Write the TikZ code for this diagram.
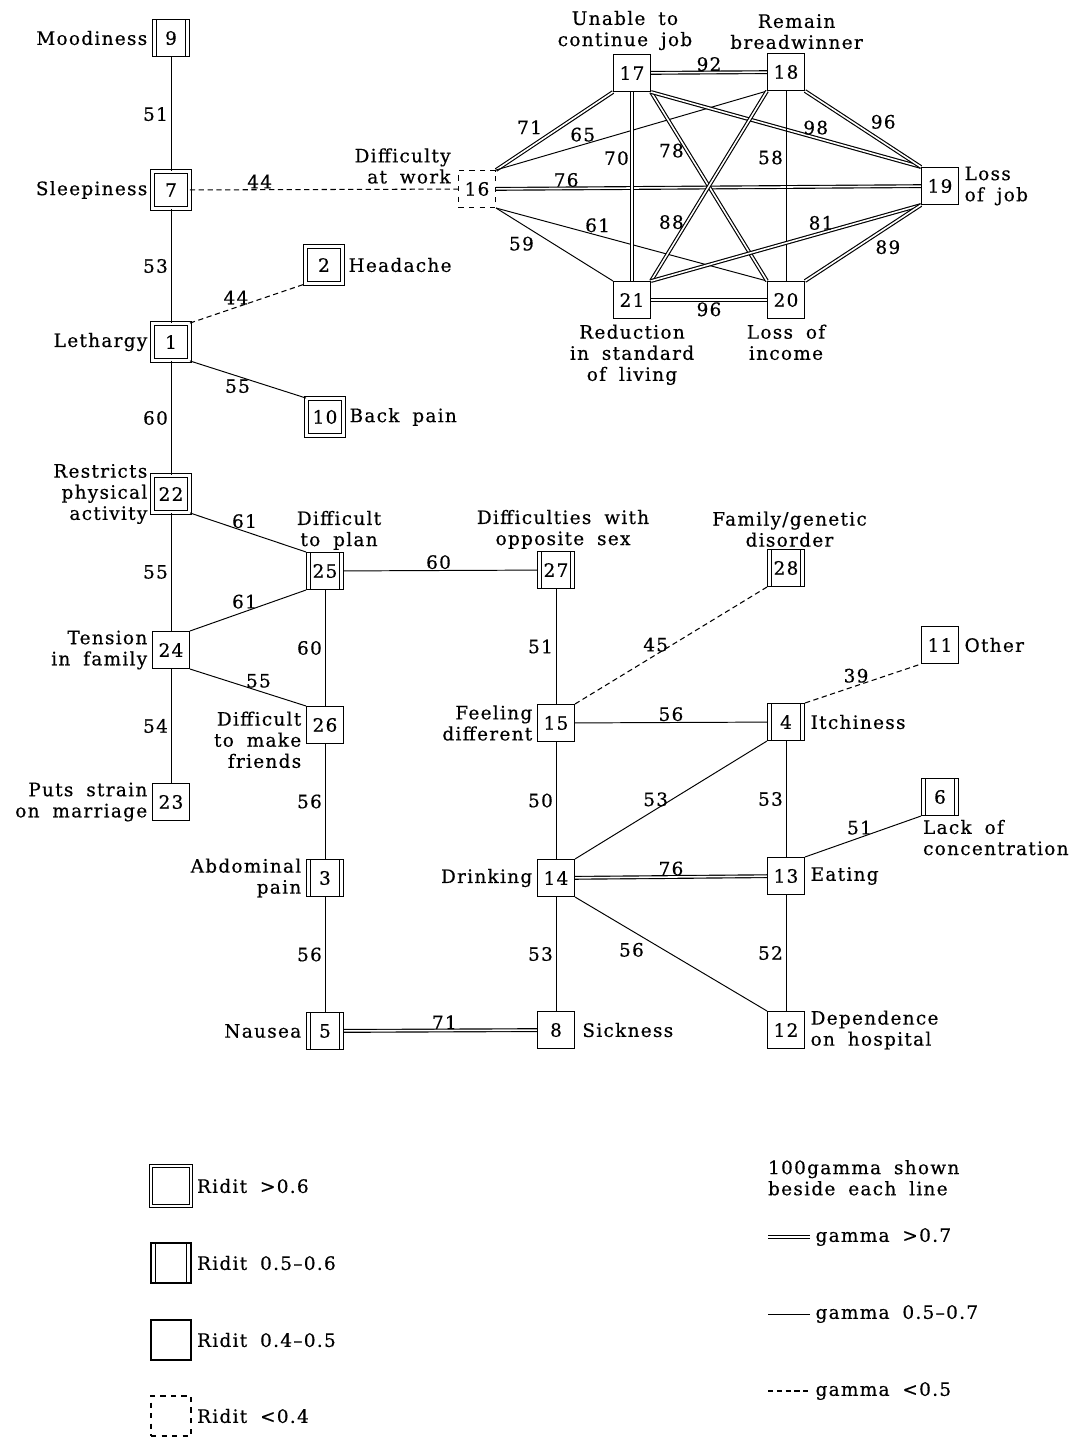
\documentclass[tikz,border=0pt]{standalone}
\usepackage{fontspec}
\setmainfont{DejaVu Serif}[LetterSpace=7, WordSpace=1.8, FakeBold=0.5]
\usetikzlibrary{positioning}

\tikzset{
  box/.style={draw, minimum size=0.74cm, inner sep=0pt, line width=0.6pt,
              font=\fontsize{10.5}{12}\selectfont},
  ridhi/.style={box, double, double distance=1.4pt, line width=0.5pt},
  ridmid/.style={box, path picture={
      \draw[line width=0.6pt]
        ([xshift=2.4pt]path picture bounding box.south west) --
        ([xshift=2.4pt]path picture bounding box.north west)
        ([xshift=-2.4pt]path picture bounding box.south east) --
        ([xshift=-2.4pt]path picture bounding box.north east);}},
  ridlow/.style={box},
  ridvlow/.style={box, dashed},
  lab/.style={inner sep=1pt, font=\fontsize{10.5}{12}\selectfont},
  num/.style={inner sep=1.5pt, font=\fontsize{10.5}{12}\selectfont},
  gmid/.style={line width=0.55pt},
  ghigh/.style={double, double distance=0.9pt, line width=0.65pt},
  glow/.style={dashed, line width=0.6pt, dash pattern=on 3pt off 2pt},
}

\begin{document}
\begin{tikzpicture}[x=0.02cm, y=-0.02cm, node distance=1.5pt]
  \useasboundingbox (0,0) rectangle (1091,1438);
  % left column
  \node[ridmid] (n9) at (171,38) {9};
  \node[ridhi] (n7) at (171,190) {7};
  \node[ridhi] (n1) at (171,342) {1};
  \node[ridhi] (n22) at (171,494) {22};
  \node[ridlow] (n24) at (171,650) {24};
  \node[ridlow] (n23) at (171,802) {23};
  \node[ridhi] (n2) at (324,265) {2};
  \node[ridhi] (n10) at (325,417) {10};
  % second column
  \node[ridmid] (n25) at (325,571) {25};
  \node[ridlow] (n26) at (325,725) {26};
  \node[ridmid] (n3) at (325,878) {3};
  \node[ridmid] (n5) at (325,1031) {5};
  % middle column
  \node[ridmid] (n27) at (556,570) {27};
  \node[ridlow] (n15) at (556,723) {15};
  \node[ridlow] (n14) at (556,878) {14};
  \node[ridlow] (n8) at (556,1030) {8};
  % right column
  \node[ridmid] (n28) at (786,568) {28};
  \node[ridmid] (n4) at (786,722) {4};
  \node[ridlow] (n13) at (786,876) {13};
  \node[ridlow] (n12) at (786,1030) {12};
  \node[ridlow] (n11) at (940,645) {11};
  \node[ridmid] (n6) at (940,797) {6};
  % work cluster
  \node[ridvlow] (n16) at (477,189) {16};
  \node[ridlow] (n17) at (632,73) {17};
  \node[ridlow] (n18) at (786,72) {18};
  \node[ridlow] (n19) at (940,186) {19};
  \node[ridlow] (n21) at (632,300) {21};
  \node[ridlow] (n20) at (786,300) {20};

  % texts
  \node[lab, left=of n9] (t9) {Moodiness};
  \node[lab, left=of n7] (t7) {Sleepiness};
  \node[lab, left=of n1] (t1) {Lethargy};
  \node[lab, right=2pt of n2] (t2) {Headache};
  \node[lab, right=2pt of n10] (t10) {Back pain};
  \node[lab, left=of n22, align=right] (t22) {Restricts\\physical\\activity};
  \node[lab, left=of n24, align=right] (t24) {Tension\\in family};
  \node[lab, left=of n23, align=right] (t23) {Puts strain\\on marriage};
  \node[lab, above=0pt of n25, xshift=8pt, align=center] (t25) {Difficult\\to plan};
  \node[lab, anchor=north east, align=right] (t26) at ([xshift=-1.5pt, yshift=-2pt]n26.north west) {Difficult\\to make\\friends};
  \node[lab, left=of n3, align=right] (t3) {Abdominal\\pain};
  \node[lab, left=of n5] (t5) {Nausea};
  \node[lab, above=0pt of n27, xshift=4pt, align=center] (t27) {Difficulties with\\opposite sex};
  \node[lab, left=of n15, align=right] (t15) {Feeling\\different};
  \node[lab, left=of n14] (t14) {Drinking};
  \node[lab, right=3pt of n8] (t8) {Sickness};
  \node[lab, above=0pt of n28, xshift=2pt, align=center] (t28) {Family/genetic\\disorder};
  \node[lab, right=2pt of n4] (t4) {Itchiness};
  \node[lab, right=2pt of n13] (t13) {Eating};
  \node[lab, right=2pt of n12, align=left] (t12) {Dependence\\on hospital};
  \node[lab, right=2pt of n11] (t11) {Other};
  \node[lab, below right=1pt and 0pt of n6.south west, align=left] (t6) {Lack of\\concentration};
  \node[lab, above left=-9pt and 3pt of n16.north west, align=right] (t16) {Difficulty\\at work};
  \node[lab, above=1pt of n17, xshift=-4pt, align=center] (t17) {Unable to\\continue job};
  \node[lab, above=1pt of n18, xshift=6pt, align=center] (t18) {Remain\\breadwinner};
  \node[lab, right=2pt of n19, align=left] (t19) {Loss\\of job};
  \node[lab, below=2pt of n21, align=center] (t21) {Reduction\\in standard\\of living};
  \node[lab, below=2pt of n20, align=center] (t20) {Loss of\\income};

  % connectors, left part
  \draw[gmid] (n9) -- node[num, left]{51} (n7);
  \draw[gmid] (n7) -- node[num, left]{53} (n1);
  \draw[gmid] (n1) -- node[num, left]{60} (n22);
  \draw[gmid] (n22) -- node[num, left]{55} (n24);
  \draw[gmid] (n24) -- node[num, left]{54} (n23);
  \draw[glow] (n7) -- node[num, pos=0.26, above, inner sep=0.5pt]{44} (n16);
  \draw[glow] (n1.north east) -- node[num, pos=0.4, above]{44} (n2.south west);
  \draw[gmid] (n1.south east) -- node[num, pos=0.41, below]{55} (n10.north west);
  \draw[gmid] (n22.south east) -- node[num, pos=0.47, above]{61} (n25.north west);
  \draw[gmid] (n24.north east) -- node[num, pos=0.47, above]{61} (n25.south west);
  \draw[gmid] (n24.south east) -- node[num, pos=0.59, above]{55} (n26.north west);
  \draw[gmid] (n25) -- node[num, left]{60} (n26);
  \draw[gmid] (n26) -- node[num, left]{56} (n3);
  \draw[gmid] (n3) -- node[num, left]{56} (n5);
  \draw[gmid] (n25) -- node[num, pos=0.49, above, inner sep=0.5pt]{60} (n27);
  \draw[ghigh] (n5) -- node[num, pos=0.52, above, inner sep=0.5pt]{71} (n8);
  % connectors, middle and right
  \draw[gmid] (n27) -- node[num, left]{51} (n15);
  \draw[gmid] (n15) -- node[num, left]{50} (n14);
  \draw[gmid] (n14) -- node[num, left]{53} (n8);
  \draw[glow] (n15.north east) -- node[num, pos=0.42, above]{45} (n28.south west);
  \draw[gmid] (n15) -- node[num, above, inner sep=0.5pt]{56} (n4);
  \draw[glow] (n4.north east) -- node[num, pos=0.44, above]{39} (n11.south west);
  \draw[gmid] (n14.north east) -- node[num, pos=0.42, above]{53} (n4.south west);
  \draw[gmid] (n4) -- node[num, left]{53} (n13);
  \draw[ghigh] (n14) -- node[num, above, inner sep=0.5pt]{76} (n13);
  \draw[gmid] (n13.north east) -- node[num, pos=0.47, above]{51} (n6.south west);
  \draw[gmid] (n13) -- node[num, left]{52} (n12);
  \draw[gmid] (n14.south east) -- node[num, pos=0.375, below left]{56} (n12.north west);
  % work cluster
  \draw[ghigh] (n16.north east) -- node[num, pos=0.42, above left]{71} (n17.south west);
  \draw[gmid] (n16.north east) -- node[num, pos=0.32, above]{65} (n18.south west);
  \draw[ghigh] (n16) -- node[num, pos=0.165, above, inner sep=0.5pt]{76} (n19);
  \draw[gmid] (n16.south east) -- node[num, pos=0.375, above]{61} (n20.north west);
  \draw[gmid] (n16.south east) -- node[num, pos=0.35, below left]{59} (n21.north west);
  \draw[ghigh] (n17) -- node[num, above, inner sep=0.5pt]{92} (n18);
  \draw[ghigh] (n17) -- node[num, pos=0.35, left]{70} (n21);
  \draw[ghigh] (n17.south east) -- node[num, pos=0.31, left]{78} (n20.north west);
  \draw[ghigh] (n17.south east) -- node[num, pos=0.61, above]{98} (n19.north west);
  \draw[ghigh] (n18.south west) -- node[num, pos=0.69, left]{88} (n21.north east);
  \draw[gmid] (n18) -- node[num, pos=0.35, left]{58} (n20);
  \draw[ghigh] (n18.south east) -- node[num, pos=0.54, above right]{96} (n19.north west);
  \draw[ghigh] (n21) -- node[num, below, inner sep=1pt]{96} (n20);
  \draw[ghigh] (n21.north east) -- node[num, pos=0.63, above]{81} (n19.south west);
  \draw[ghigh] (n20.north east) -- node[num, pos=0.58, below right]{89} (n19.south west);

  % legend, boxes
  \node[ridhi, minimum size=0.8cm] (k1) at (171,1186) {};
  \node[ridmid, minimum size=0.8cm] (k2) at (171,1263) {};
  \node[ridlow, minimum size=0.8cm] (k3) at (171,1340) {};
  \node[ridvlow, minimum size=0.8cm] (k4) at (171,1416) {};
  \node[lab, right=2pt of k1] (kt1) {Ridit >0.6};
  \node[lab, right=2pt of k2] (kt2) {Ridit 0.5--0.6};
  \node[lab, right=2pt of k3] (kt3) {Ridit 0.4--0.5};
  \node[lab, right=2pt of k4] (kt4) {Ridit <0.4};
  % legend, lines
  \node[lab, anchor=north west, align=left] (kg) at (766,1158) {100gamma shown\\beside each line};
  \coordinate (g1a) at (768,1237); \coordinate (g1b) at (810,1237);
  \coordinate (g2a) at (768,1314); \coordinate (g2b) at (810,1314);
  \coordinate (g3a) at (768,1391); \coordinate (g3b) at (810,1391);
  \draw[ghigh] (g1a) -- (g1b);
  \draw[gmid] (g2a) -- (g2b);
  \draw[glow] (g3a) -- (g3b);
  \node[lab, right=2pt of g1b] (gt1) {gamma >0.7};
  \node[lab, right=2pt of g2b] (gt2) {gamma 0.5--0.7};
  \node[lab, right=2pt of g3b] (gt3) {gamma <0.5};
\end{tikzpicture}
\end{document}
